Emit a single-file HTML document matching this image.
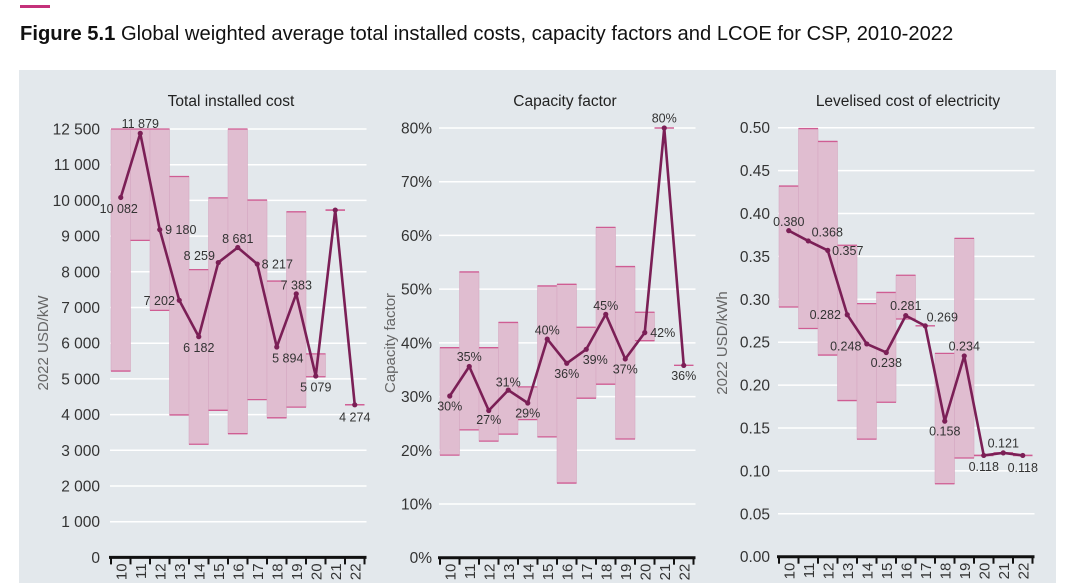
<!DOCTYPE html>
<html><head><meta charset="utf-8"><style>
html,body{margin:0;padding:0;background:#fff;width:1080px;height:583px;overflow:hidden}
svg{display:block;font-family:"Liberation Sans",sans-serif}
</style></head><body>
<svg id="fig" width="1080" height="583" viewBox="0 0 1080 583">
<rect x="20" y="5" width="30" height="3" fill="#c4317a"/>
<text x="20" y="40" font-size="20.2" fill="#111"><tspan font-weight="bold">Figure 5.1</tspan> Global weighted average total installed costs, capacity factors and LCOE for CSP, 2010-2022</text>
<rect x="19" y="70" width="1037" height="513" fill="#e3e8ec"/>
<g id="charts"></g>
</svg>
<script>
const years = ["10","11","12","13","14","15","16","17","18","19","20","21","22"];
// Total installed cost
const costAvg  = [10082,11879,9180,7202,6182,8259,8681,8217,5894,7383,5079,9730,4274];
const costLow  = [5220,8880,6920,3990,3170,4120,3465,4420,3910,4210,5060,9730,4274];
const costHigh = [12000,12000,12000,10670,8060,10070,12000,10010,7740,9680,5700,9730,4274];
const costLabels = ["10 082","11 879","9 180","7 202","6 182","8 259","8 681","8 217","5 894","7 383","5 079","","4 274"];
const costTicks = [0,1000,2000,3000,4000,5000,6000,7000,8000,9000,10000,11000,12000];
const costTickLabels = ["0","1 000","2 000","3 000","4 000","5 000","6 000","7 000","8 000","9 000","10 000","11 000","12 500"];
// Capacity factor
const cfAvg  = [30.1,35.6,27.4,31.2,28.8,40.7,36.2,38.8,45.3,37.0,41.9,80,35.8];
const cfLow  = [19.1,23.8,21.7,23.0,25.7,22.5,13.9,29.7,32.3,22.1,40.4,80,35.8];
const cfHigh = [39.1,53.2,39.1,43.8,31.8,50.6,50.9,42.9,61.5,54.2,45.7,80,35.8];
const cfLabels = ["30%","35%","27%","31%","29%","40%","36%","39%","45%","37%","42%","80%","36%"];
const cfTicks = [0,10,20,30,40,50,60,70,80];
const cfTickLabels = ["0%","10%","20%","30%","40%","50%","60%","70%","80%"];
// LCOE
const lcoeAvg  = [0.380,0.368,0.357,0.282,0.248,0.238,0.281,0.269,0.158,0.234,0.118,0.121,0.118];
const lcoeLow  = [0.291,0.266,0.235,0.182,0.137,0.180,0.277,0.269,0.085,0.115,0.118,0.121,0.118];
const lcoeHigh = [0.432,0.499,0.484,0.363,0.295,0.308,0.328,0.269,0.237,0.371,0.118,0.121,0.118];
const lcoeLabels = ["0.380","0.368","0.357","0.282","0.248","0.238","0.281","0.269","0.158","0.234","0.118","0.121","0.118"];
const lcoeTicks = [0,0.05,0.10,0.15,0.20,0.25,0.30,0.35,0.40,0.45,0.50];
const lcoeTickLabels = ["0.00","0.05","0.10","0.15","0.20","0.25","0.30","0.35","0.40","0.45","0.50"];

const NS="http://www.w3.org/2000/svg";
const root=document.getElementById('charts');
function el(tag,attrs,parent,txt){const e=document.createElementNS(NS,tag);for(const k in attrs)e.setAttribute(k,attrs[k]);if(txt!==undefined)e.textContent=txt;(parent||root).appendChild(e);return e;}

function chart(cfg){
  const g=el('g',{});
  
  
  const bw=cfg.bw, y0=cfg.y0, y1=cfg.y1;
  const yS=v=>y0-(v-cfg.vmin)/(cfg.vmax-cfg.vmin)*(y0-y1);
  const xS=i=>cfg.x0+bw*i+bw/2;
  const t=el('text',{x:cfg.titleX,y:106,'font-size':15.5,'text-anchor':'middle',fill:'#222'},g,cfg.title);
  
  
  const at=el('text',{x:0,y:0,'font-size':15,'text-anchor':'middle',fill:'#666',transform:`translate(${cfg.axX},343) rotate(-90)`},g,cfg.axTitle);
  
  
  cfg.ticks.forEach((v,k)=>{
    const y=yS(v);
    if(k>0){const gl=el('line',{x1:cfg.x0-1,x2:cfg.x0+bw*13+2,y1:y,y2:y,stroke:'#fff','stroke-width':1.5},g);
      
      }
    const tl=el('text',{x:cfg.tickX,y:y+5.5,'font-size':15.5,'text-anchor':'end',fill:'#333'},g,cfg.tickLabels[k]);
    
    
  });
  cfg.low.forEach((lo,i)=>{
    const hi=cfg.high[i], xa=cfg.x0+bw*i;
    if(hi-lo>(cfg.vmax-cfg.vmin)*0.003){
      const r=el('rect',{x:xa,y:yS(hi),width:bw,height:yS(lo)-yS(hi),fill:'#e0bdd0',stroke:'#d6a9c2','stroke-width':0.6},g);
      
      
    }
    [lo,hi].forEach(v=>{const l=el('line',{x1:xa,x2:xa+bw,y1:yS(v),y2:yS(v),stroke:'#cf5d93','stroke-width':1.3},g);
      
      });
  });
  const pts=cfg.avg.map((v,i)=>xS(i)+','+yS(v)).join(' ');
  const pl=el('polyline',{points:pts,fill:'none',stroke:'#7b1f56','stroke-width':2.6,'stroke-linejoin':'round'},g);
  
  
  cfg.avg.forEach((v,i)=>{
    const c=el('circle',{cx:xS(i),cy:yS(v),r:2.6,fill:'#7b1f56'},g);
    
    
    if(cfg.labels[i]){const o=cfg.off[i];
      const lt=el('text',{x:xS(i)+o[0],y:yS(v)+o[1]+4.5,'font-size':12.5,'text-anchor':'middle',fill:'#333'},g,cfg.labels[i]);
      
      }
  });
  const ax=el('line',{x1:cfg.x0-2,x2:cfg.x0+bw*13+2,y1:y0,y2:y0,stroke:'#111','stroke-width':3},g);
  
  
  for(let i=0;i<=13;i++){const tk=el('line',{x1:cfg.x0+bw*i,x2:cfg.x0+bw*i,y1:y0,y2:y0+7,stroke:'#111','stroke-width':2},g);
    
    }
  years.forEach((yr,i)=>{const yl=el('text',{x:0,y:0,'font-size':15,'text-anchor':'end',fill:'#333',transform:`translate(${xS(i)+5.5},${y0+6}) rotate(-90)`},g,yr);
    
    });
}

chart({name:'total-installed-cost-chart',title:'Total installed cost',titleX:231,axTitle:'2022 USD/kW',axX:48,tickX:100,
  x0:111,bw:19.5,y0:557.4,y1:557.4-12000*0.0357,vmin:0,vmax:12000,
  avg:costAvg,low:costLow,high:costHigh,labels:costLabels,ticks:costTicks,tickLabels:costTickLabels,
  off:[[-2,11],[0,-10],[21,0],[-20,0],[0,11],[-19,-7],[0,-9],[20,0],[11,11],[0,-9],[0,11],[0,0],[0,12]]});
chart({name:'capacity-factor-chart',title:'Capacity factor',titleX:565,axTitle:'Capacity factor',axX:395,tickX:432,
  x0:440,bw:19.5,y0:557.7,y1:128,vmin:0,vmax:80,
  avg:cfAvg,low:cfLow,high:cfHigh,labels:cfLabels,ticks:cfTicks,tickLabels:cfTickLabels,
  off:[[0,10],[0,-10],[0,9],[0,-8],[0,10],[0,-9],[0,10],[9,10],[0,-9],[0,10],[18,0],[0,-10],[0,10]]});
chart({name:'lcoe-chart',title:'Levelised cost of electricity',titleX:908,axTitle:'2022 USD/kWh',axX:727,tickX:770,
  x0:779,bw:19.5,y0:556.7,y1:127.7,vmin:0,vmax:0.5,
  avg:lcoeAvg,low:lcoeLow,high:lcoeHigh,labels:lcoeLabels,ticks:lcoeTicks,tickLabels:lcoeTickLabels,
  off:[[0,-9],[19,-9],[20,0],[-22,0],[-21,2],[0,10],[0,-10],[17,-9],[0,10],[0,-10],[0,11],[0,-10],[0,12]]});
</script>
</body></html>
